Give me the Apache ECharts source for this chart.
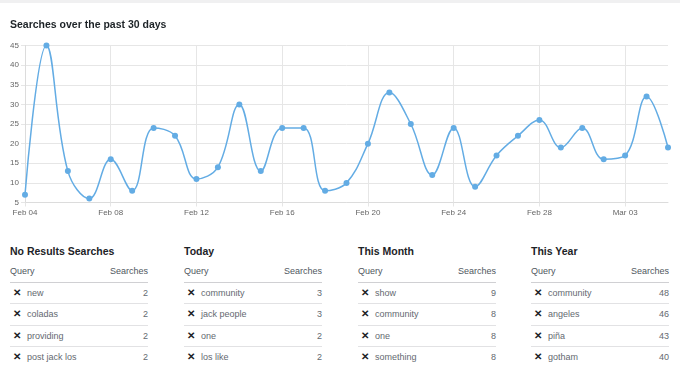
<!DOCTYPE html>
<html>
<head>
<meta charset="utf-8">
<script src="https://cdn.jsdelivr.net/npm/echarts@6/dist/echarts.min.js"></script>
<style>
html,body{margin:0;padding:0;background:#fff;width:680px;height:366px;overflow:hidden;font-family:"Liberation Sans",Arial,sans-serif;}
#topbar{position:absolute;left:0;top:0;width:680px;height:3px;background:#f0f0f1;}
#title{position:absolute;left:10px;top:18px;font-size:10.5px;font-weight:bold;color:#1d2327;white-space:nowrap;}
#chart{position:absolute;left:0;top:0;width:680px;height:225px;}
.tbl{position:absolute;top:243px;width:138px;}
.tbl h3{margin:0;font-size:10.5px;font-weight:bold;color:#1d2327;height:18px;line-height:16px;}
.row{box-sizing:border-box;position:relative;height:21.4px;line-height:20px;font-size:9px;color:#646970;border-bottom:1px solid #e2e2e4;}
.row.head{height:22px;line-height:21px;color:#50575e;border-bottom:1px solid #d0d0d3;}
.row .q{position:absolute;left:0;}
.row .s{position:absolute;right:0;}
.row .x{display:inline-block;font-weight:bold;color:#1d2327;font-size:10px;margin-left:3px;margin-right:6px;}
.row.last{border-bottom:none;}
</style>
</head>
<body>
<div id="topbar"></div>
<div id="chart"></div>
<div id="title">Searches over the past 30 days</div>
<div id="tables"></div>
<script>
var dates = ["Feb 04","Feb 05","Feb 06","Feb 07","Feb 08","Feb 09","Feb 10","Feb 11","Feb 12","Feb 13","Feb 14","Feb 15","Feb 16","Feb 17","Feb 18","Feb 19","Feb 20","Feb 21","Feb 22","Feb 23","Feb 24","Feb 25","Feb 26","Feb 27","Feb 28","Feb 29","Mar 01","Mar 02","Mar 03","Mar 04","Mar 05"];
var searches = [7,45,13,6,16,8,24,22,11,14,30,13,24,24,8,10,20,33,25,12,24,9,17,22,26,19,24,16,17,32,19];

var tableTitles = ["No Results Searches","Today","This Month","This Year"];
var tableQueries = [
  ["new","coladas","providing","post jack los"],
  ["community","jack people","one","los like"],
  ["show","community","one","something"],
  ["community","angeles","piña","gotham"]
];
var tableCounts = [
  [2,2,2,2],
  [3,3,2,2],
  [9,8,8,8],
  [48,46,43,40]
];

var chart = echarts.init(document.getElementById('chart'));
var grayLine = '#e6e6e6';
chart.setOption({
  animation:false,
  grid:{left:25,right:12,top:45.5,bottom:22.5,containLabel:false},
  xAxis:{
    type:'category',data:dates,boundaryGap:false,
    axisLine:{lineStyle:{color:'#dcdcdc'}},
    axisTick:{show:true,interval:3,length:4,lineStyle:{color:grayLine}},
    axisLabel:{interval:3,fontSize:8,color:'#666',margin:6,fontFamily:'Liberation Sans'},
    splitLine:{show:true,interval:3,lineStyle:{color:grayLine}}
  },
  yAxis:{
    type:'value',min:5,max:45,interval:5,
    axisLine:{show:true,lineStyle:{color:'#dcdcdc'}},
    axisTick:{show:true,length:4,lineStyle:{color:grayLine}},
    axisLabel:{fontSize:8,color:'#666',margin:6,fontFamily:'Liberation Sans'},
    splitLine:{show:true,lineStyle:{color:grayLine}}
  },
  series:[{
    type:'line',data:searches,smooth:0.4,
    symbol:'circle',symbolSize:6,
    lineStyle:{color:'#63ace4',width:1.5},
    itemStyle:{color:'#63ace4'}
  }]
});

var lefts=[10,184,358,531];
var html='';
for(var i=0;i<4;i++){
  html+='<div class="tbl" style="left:'+lefts[i]+'px"><h3>'+tableTitles[i]+'</h3>';
  html+='<div class="row head"><span class="q">Query</span><span class="s">Searches</span></div>';
  for(var j=0;j<tableQueries[i].length;j++){
    html+='<div class="row'+(j===tableQueries[i].length-1?' last':'')+'"><span class="q"><span class="x">✕</span>'+tableQueries[i][j]+'</span><span class="s">'+tableCounts[i][j]+'</span></div>';
  }
  html+='</div>';
}
document.getElementById('tables').innerHTML=html;
</script>
</body>
</html>
